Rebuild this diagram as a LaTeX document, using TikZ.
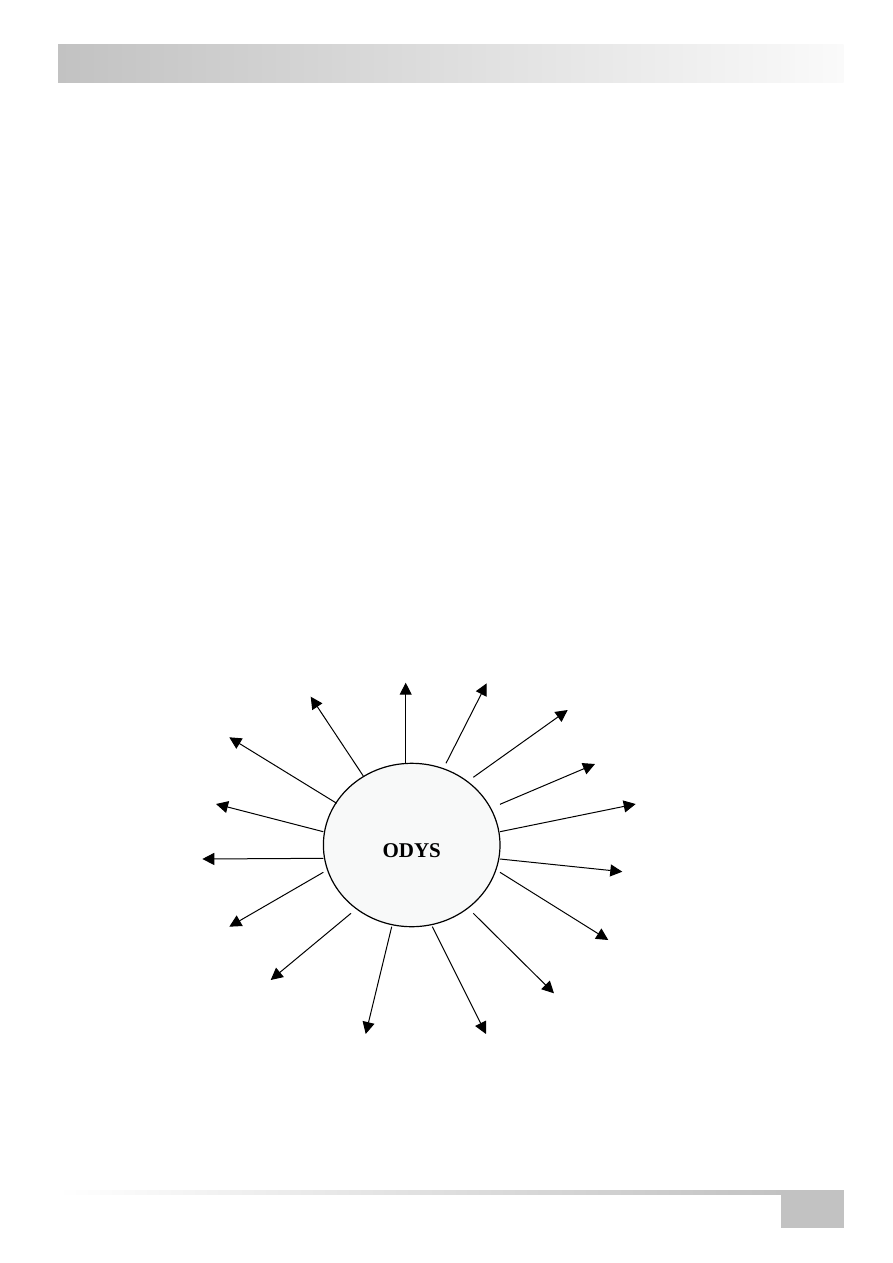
\documentclass[tikz,border=0pt]{standalone}
\usepackage{fontspec}
\setmainfont{Liberation Serif}
\usetikzlibrary{arrows.meta,shapes.geometric}
\definecolor{barg}{HTML}{C2C2C2}
\definecolor{barl}{HTML}{FAFAFA}
\definecolor{circfill}{HTML}{F8F9F9}
\begin{document}
\begin{tikzpicture}[x=1pt,y=-1pt,
  ray/.style={line width=1pt,-{Triangle[length=12pt,width=12pt]}},
  hub/.style={ellipse,draw,line width=1.2pt,fill=circfill,minimum width=176.6pt,minimum height=163.4pt,inner sep=0pt},
  hubtext/.style={font=\fontsize{21}{21}\selectfont\bfseries,inner sep=0pt}]
\useasboundingbox (0,0) rectangle (893,1263);
% header bar
\shade[left color=barg,right color=barl] (58,45) rectangle (843.5,82.7);
% footer line and box
\shade[left color=white,right color=barg] (58,1190) rectangle (781,1194);
\fill[barg] (781,1190) rectangle (843.5,1227.7);
% hub
\node[hub] (hub) at (411.7,845) {};
\node[hubtext] (lbl) at ([yshift=-5.5pt]hub.center) {ODYS};
% ray coordinates
\coordinate (s1) at (405.7,763.3);  \coordinate (t1) at (405.7,682.7);
\coordinate (s2) at (446,763.3);    \coordinate (t2) at (486.7,683.3);
\coordinate (s3) at (473.3,777.3);  \coordinate (t3) at (567.7,710);
\coordinate (s4) at (500,804.3);    \coordinate (t4) at (595,764);
\coordinate (s5) at (500,831.7);    \coordinate (t5) at (635.7,804);
\coordinate (s6) at (500,859);      \coordinate (t6) at (622.3,871.7);
\coordinate (s7) at (500,872.3);    \coordinate (t7) at (608.3,940);
\coordinate (s8) at (473.3,913.3);  \coordinate (t8) at (554,993.3);
\coordinate (s9) at (432.3,926.7);  \coordinate (t9) at (486,1034);
\coordinate (s10) at (391.7,926.7); \coordinate (t10) at (365.7,1034);
\coordinate (s11) at (351,913.3);   \coordinate (t11) at (270.7,980);
\coordinate (s12) at (323.3,872.3); \coordinate (t12) at (229.3,926.7);
\coordinate (s13) at (323.3,858.3); \coordinate (t13) at (202.3,859);
\coordinate (s14) at (323.3,831.7); \coordinate (t14) at (216,804);
\coordinate (s15) at (336.7,803.3); \coordinate (t15) at (229.3,737.3);
\coordinate (s16) at (363.3,776);   \coordinate (t16) at (310.7,696.7);
\foreach \i in {1,...,16} {\draw[ray] (s\i) -- (t\i);}
\end{tikzpicture}
\end{document}
